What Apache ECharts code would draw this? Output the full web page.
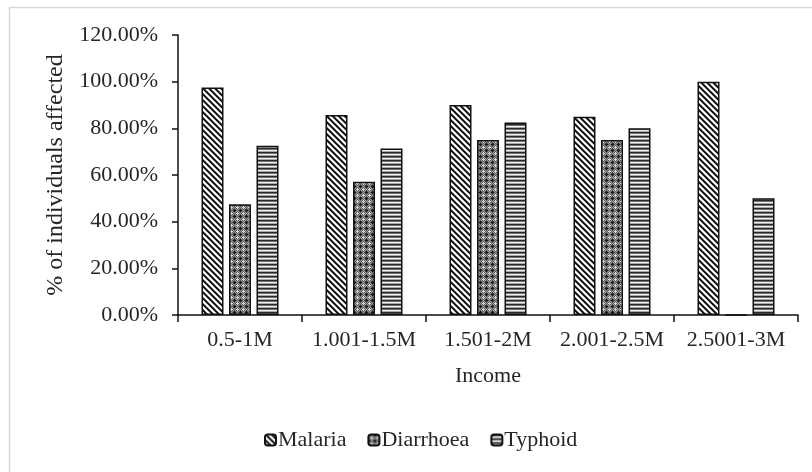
<!DOCTYPE html>
<html>
<head>
<meta charset="utf-8">
<script src="https://cdn.jsdelivr.net/npm/echarts@6/dist/echarts.min.js"></script>
<style>
  html, body { margin: 0; padding: 0; background: #fff; }
  #chart { width: 812px; height: 472px; }
</style>
</head>
<body>
<div id="chart"></div>
<script>
// Income bands on the x axis
const incomeBands = ['0.5-1M', '1.001-1.5M', '1.501-2M', '2.001-2.5M', '2.5001-3M'];
// Share of individuals affected, in percent
const malaria = [97.5, 85.7, 90.0, 85.0, 100.0];
const diarrhoea = [47.5, 57.1, 75.0, 75.0, 0];
const typhoid = [72.5, 71.4, 82.5, 80.0, 50.0];
// Value axis ticks
const yTicks = [0, 20, 40, 60, 80, 100, 120];

const FONT = '"Liberation Serif", "Times New Roman", serif';
const TEXT = '#262626';

// Build a small repeating tile and paint it pixel by pixel
function makeTile(size, painter) {
  const c = document.createElement('canvas');
  c.width = size; c.height = size;
  const ctx = c.getContext('2d');
  for (let y = 0; y < size; y++) {
    for (let x = 0; x < size; x++) {
      ctx.fillStyle = painter(x, y);
      ctx.fillRect(x, y, 1, 1);
    }
  }
  return c;
}

// Downward diagonal stripes
const diagTile = makeTile(6, (x, y) => {
  const k = ((x - y) % 6 + 6) % 6;
  return k < 2 ? '#111' : (k === 2 ? '#777' : (k === 5 ? '#bbb' : '#fff'));
});
// Dotted cross-hatch
const hatchTile = makeTile(6, (x, y) => {
  if ((x === 0 && (y <= 1 || y === 5)) || (y === 0 && (x <= 1 || x === 5))) return '#1a1a1a';
  if ((x === 3 && y >= 2 && y <= 4) || (y === 3 && x >= 2 && x <= 4)) return '#d8d8d8';
  if ((x + y) % 2 === 0) return '#5a5a5a';
  return '#9a9a9a';
});
// Horizontal stripes
const horizTile = makeTile(4, (x, y) => ['#2a2a2a', '#707070', '#f0f0f0', '#a8a8a8'][y]);

function pattern(tile) {
  return { image: tile, repeat: 'repeat' };
}

function barSeries(name, data, tile) {
  return {
    name: name,
    type: 'bar',
    data: data,
    barWidth: 22,
    barGap: '25%',
    itemStyle: {
      color: pattern(tile),
      borderColor: '#111',
      borderWidth: 1.5
    }
  };
}

const chart = echarts.init(document.getElementById('chart'), null, { renderer: 'canvas' });

chart.setOption({
  animation: false,
  backgroundColor: '#fff',
  textStyle: { fontFamily: FONT },
  graphic: [{
    type: 'rect',
    shape: { x: 9.5, y: 7.5, width: 900, height: 600 },
    style: { fill: null, stroke: '#d9d9d9', lineWidth: 1.5 },
    silent: true,
    z: -10
  }],
  grid: { left: 178, right: 14, top: 35, bottom: 157 },
  legend: {
    left: 259,
    top: 424,
    itemWidth: 11,
    itemHeight: 11,
    itemGap: 21,
    textStyle: { fontFamily: FONT, fontSize: 22, color: TEXT, padding: [0, 0, 0, -3] },
    data: ['Malaria', 'Diarrhoea', 'Typhoid']
  },
  xAxis: {
    type: 'category',
    data: incomeBands,
    name: 'Income',
    nameLocation: 'middle',
    nameGap: 50,
    nameTextStyle: { fontFamily: FONT, fontSize: 22, color: TEXT },
    axisLine: { lineStyle: { color: '#111', width: 1.5 } },
    axisTick: { show: true, alignWithLabel: false, length: 7, lineStyle: { color: '#111', width: 1.5 } },
    axisLabel: { interval: 0, fontFamily: FONT, fontSize: 22, color: TEXT, margin: 14 }
  },
  yAxis: {
    type: 'value',
    min: yTicks[0],
    max: yTicks[yTicks.length - 1],
    interval: yTicks[1] - yTicks[0],
    name: '% of individuals affected',
    nameLocation: 'middle',
    nameGap: 110,
    nameRotate: 90,
    nameTextStyle: { fontFamily: FONT, fontSize: 24, color: TEXT },
    axisLine: { show: true, lineStyle: { color: '#111', width: 1.5 } },
    axisTick: { show: true, length: 6, lineStyle: { color: '#111', width: 1.5 } },
    splitLine: { show: false },
    axisLabel: {
      fontFamily: FONT, fontSize: 22, color: TEXT, margin: 20,
      formatter: v => v.toFixed(2) + '%'
    }
  },
  series: [
    barSeries('Malaria', malaria, diagTile),
    barSeries('Diarrhoea', diarrhoea, hatchTile),
    barSeries('Typhoid', typhoid, horizTile)
  ]
});
</script>
</body>
</html>
